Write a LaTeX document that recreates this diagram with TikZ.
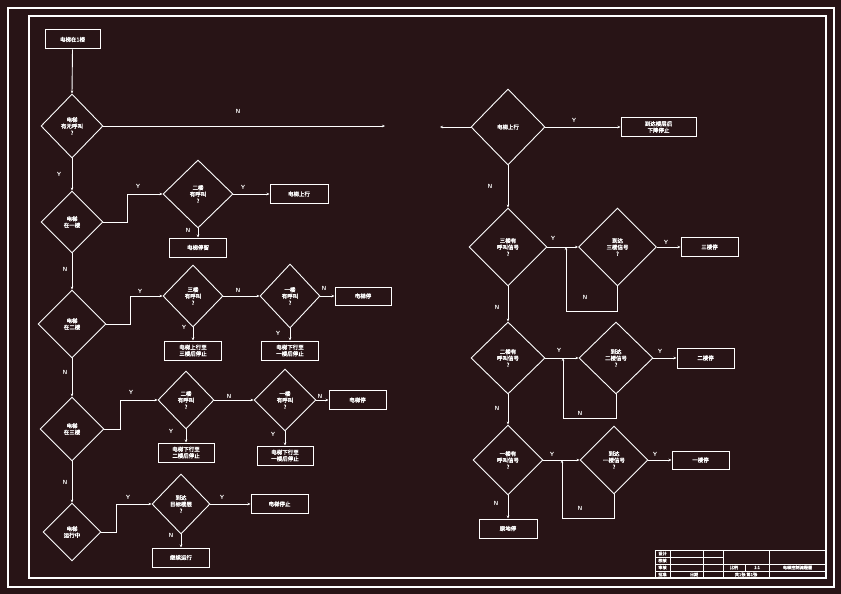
\documentclass[tikz,border=0pt]{standalone}
\usepackage{fontspec}
\newfontfamily\cjk{Noto Sans CJK SC}[FakeBold=2]
\usetikzlibrary{shapes.geometric,arrows.meta}
\definecolor{bg}{RGB}{40,20,22}
\begin{document}
\begin{tikzpicture}[x=1pt,y=-1pt,
  every node/.style={font=\cjk\fontsize{5.5}{6.5}\selectfont, text=white},
  dec/.style={draw=white, line width=0.9pt, shape=diamond, inner sep=0pt, align=center},
  proc/.style={draw=white, line width=1pt, rectangle, inner sep=0pt, align=center, minimum width=57pt, minimum height=19pt},
  conn/.style={draw=white, line width=0.9pt, -{Stealth[length=3pt,width=2.5pt]}},
  lbl/.style={font=\sffamily\bfseries\fontsize{6}{6}\selectfont, text=white, inner sep=0pt},
  tb/.style={font=\cjk\fontsize{4.2}{4.5}\selectfont, text=white, inner sep=0pt},
  tbl/.style={draw=white, line width=0.8pt}]
\fill[bg] (0,0) rectangle (841,594);
\useasboundingbox (0,0) rectangle (841,594);
\draw[white, line width=1.2pt] (8,8) rectangle (834,587);
\draw[white, line width=2pt] (29,16) rectangle (826,578);

% ---------- left column ----------
\node[proc, minimum width=55pt] (A) at (72.5,39.5) {电梯在1楼};
\node[dec, minimum width=62pt, minimum height=64pt] (D1) at (72,126) {电梯\\有无呼叫\\?};
\node[dec, minimum width=62pt, minimum height=62pt] (D2) at (72,222) {电梯\\在一楼};
\node[dec, minimum width=70pt, minimum height=68pt] (D2a) at (198,194) {二楼\\有呼叫\\?};
\node[proc, minimum width=58pt] (B2r) at (299,194) {电梯上行};
\node[proc] (B2d) at (198,247.5) {电梯停留};

\node[dec, minimum width=68pt, minimum height=68pt] (D3) at (72,324) {电梯\\在二楼};
\node[dec, minimum width=60pt, minimum height=62pt] (D3a) at (193,296) {三楼\\有呼叫\\?};
\node[dec, minimum width=60pt, minimum height=64pt] (D3b) at (290,296) {一楼\\有呼叫\\?};
\node[proc, minimum width=56pt, minimum height=18pt] (B3r) at (363,296) {电梯停};
\node[proc] (B3a) at (193,350.5) {电梯上行至\\三楼后停止};
\node[proc] (B3b) at (290,350.5) {电梯下行至\\一楼后停止};

\node[dec, minimum width=64pt, minimum height=64pt] (D4) at (72,429) {电梯\\在三楼};
\node[dec, minimum width=56pt, minimum height=58pt] (D4a) at (186,400) {二楼\\有呼叫\\?};
\node[dec, minimum width=62pt, minimum height=62pt] (D4b) at (285,400) {一楼\\有呼叫\\?};
\node[proc] (B4r) at (357.5,400) {电梯停};
\node[proc, minimum width=56pt] (B4a) at (186,452.5) {电梯下行至\\二楼后停止};
\node[proc, minimum width=56pt] (B4b) at (285,455.5) {电梯下行至\\一楼后停止};

\node[dec, minimum width=58pt, minimum height=58pt] (D5) at (72,532) {电梯\\运行中};
\node[dec, minimum width=58pt, minimum height=60pt] (D5a) at (181,504) {到达\\目标楼层\\?};
\node[proc] (B5r) at (279.5,504) {电梯停止};
\node[proc] (B5d) at (181,557.5) {继续运行};

\coordinate (g1) at (385,126);
\coordinate (g2) at (440,127);

\draw[conn] (A.south) -- (D1.north);
\draw[conn] (D1.east) -- (g1);
\node[lbl] at (238,111) {N};
\draw[conn] (D1.south) -- (D2.north);
\node[lbl] at (59,174) {Y};

\draw[conn] (D2.east) -- ++(24,0) |- (D2a.west);
\node[lbl] at (138,186) {Y};
\draw[conn] (D2a.east) -- (B2r.west);
\node[lbl] at (243,187) {Y};
\draw[conn] (D2a.south) -- (B2d.north);
\node[lbl] at (188,230) {N};
\draw[conn] (D2.south) -- (D3.north);
\node[lbl] at (65,269) {N};

\draw[conn] (D3.east) -- ++(24,0) |- (D3a.west);
\node[lbl] at (140,291) {Y};
\draw[conn] (D3a.east) -- (D3b.west);
\node[lbl] at (238,290) {N};
\draw[conn] (D3b.east) -- (B3r.west);
\node[lbl] at (324,288) {N};
\draw[conn] (D3a.south) -- (B3a.north);
\node[lbl] at (184,327) {Y};
\draw[conn] (D3b.south) -- (B3b.north);
\node[lbl] at (278,333) {Y};
\draw[conn] (D3.south) -- (D4.north);
\node[lbl] at (65,372) {N};

\draw[conn] (D4.east) -- ++(16,0) |- (D4a.west);
\node[lbl] at (131,392) {Y};
\draw[conn] (D4a.east) -- (D4b.west);
\node[lbl] at (229,396) {N};
\draw[conn] (D4b.east) -- (B4r.west);
\node[lbl] at (320,396) {N};
\draw[conn] (D4a.south) -- (B4a.north);
\node[lbl] at (171,431) {Y};
\draw[conn] (D4b.south) -- (B4b.north);
\node[lbl] at (273,434) {Y};
\draw[conn] (D4.south) -- (D5.north);
\node[lbl] at (65,482) {N};

\draw[conn] (D5.east) -- ++(15,0) |- (D5a.west);
\node[lbl] at (128,497) {Y};
\draw[conn] (D5a.east) -- (B5r.west);
\node[lbl] at (222,497) {Y};
\draw[conn] (D5a.south) -- (B5d.north);
\node[lbl] at (171,535) {N};

% ---------- right column ----------
\node[dec, minimum width=74pt, minimum height=76pt] (R1) at (508,127) {电梯上行};
\node[proc, minimum width=75pt] (C1) at (658.5,127) {到达楼层后\\下降停止};
\node[dec, minimum width=78pt, minimum height=78pt] (R2) at (508,247) {三楼有\\呼叫信号\\?};
\node[dec, minimum width=78pt, minimum height=78pt] (R2a) at (617.5,247) {到达\\三楼信号\\?};
\node[proc] (C2) at (709.5,247) {三楼停};
\node[dec, minimum width=74pt, minimum height=72pt] (R3) at (508,358) {二楼有\\呼叫信号\\?};
\node[dec, minimum width=74pt, minimum height=72pt] (R3a) at (616,358) {到达\\二楼信号\\?};
\node[proc, minimum height=20pt] (C3) at (705.5,358) {二楼停};
\node[dec, minimum width=70pt, minimum height=70pt] (R4) at (508,460) {一楼有\\呼叫信号\\?};
\node[dec, minimum width=68pt, minimum height=68pt] (R4a) at (614,460) {到达\\一楼信号\\?};
\node[proc, minimum height=18pt] (C4) at (700.5,460) {一楼停};
\node[proc, minimum width=58pt] (C5) at (508,528.5) {原地停};

\coordinate (j2) at (566,247);
\coordinate (j3) at (563,358);
\coordinate (j4) at (562,460);

\draw[conn] (R1.west) -- (g2);
\draw[conn] (R1.east) -- (C1.west);
\node[lbl] at (574,120) {Y};
\draw[conn] (R1.south) -- (R2.north);
\node[lbl] at (490,186) {N};

\draw[conn] (R2.east) -- (R2a.west);
\node[lbl] at (553,238) {Y};
\draw[conn] (R2a.east) -- (C2.west);
\node[lbl] at (666,242) {Y};
\draw[conn] (R2a.south) -- ++(0,25) -| (j2);
\node[lbl] at (585,297) {N};
\draw[conn] (R2.south) -- (R3.north);
\node[lbl] at (497,307) {N};

\draw[conn] (R3.east) -- (R3a.west);
\node[lbl] at (559,350) {Y};
\draw[conn] (R3a.east) -- (C3.west);
\node[lbl] at (660,351) {Y};
\draw[conn] (R3a.south) -- ++(0,24) -| (j3);
\node[lbl] at (580,413) {N};
\draw[conn] (R3.south) -- (R4.north);
\node[lbl] at (497,408) {N};

\draw[conn] (R4.east) -- (R4a.west);
\node[lbl] at (552,454) {Y};
\draw[conn] (R4a.east) -- (C4.west);
\node[lbl] at (655,454) {Y};
\draw[conn] (R4a.south) -- ++(0,24) -| (j4);
\node[lbl] at (580,508) {N};
\draw[conn] (R4.south) -- (C5.north);
\node[lbl] at (496,503) {N};

% ---------- title block ----------
\draw[tbl] (655,550) rectangle (826,578);
\draw[white, line width=1.5pt] (655.5,550) -- (655.5,578);
\draw[tbl] (655,557) -- (723,557);
\draw[tbl] (655,564) -- (826,564);
\draw[tbl] (655,571) -- (826,571);
\draw[tbl] (670,550) -- (670,578);
\draw[tbl] (703,550) -- (703,578);
\draw[tbl] (723,550) -- (723,578);
\draw[tbl] (769,550) -- (769,578);
\draw[tbl] (745,564) -- (745,571);
\node[tb] at (662.5,553.5) {设计};
\node[tb] at (662.5,560.5) {校核};
\node[tb] at (662.5,567.5) {审核};
\node[tb] at (662.5,574.5) {批准};
\node[tb] at (694,574.5) {日期};
\node[tb] at (734,567.5) {比例};
\node[tb] at (757,567.5) {1:1};
\node[tb] at (797.5,567.5) {电梯控制流程图};
\node[tb] at (746,574.5) {共1张 第1张};
\end{tikzpicture}
\end{document}
